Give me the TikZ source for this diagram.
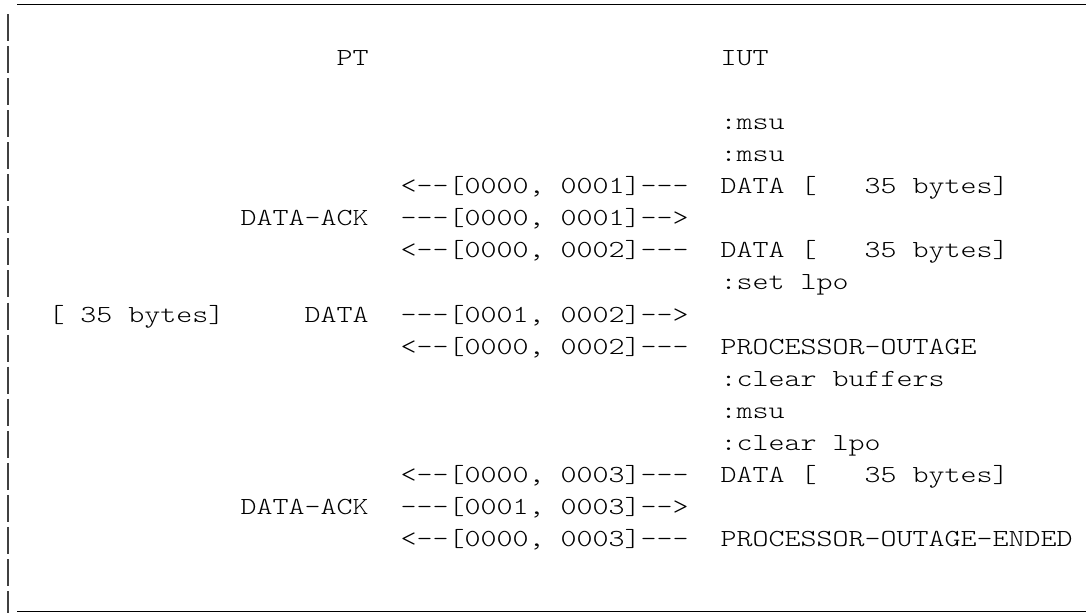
\documentclass[tikz,border=0pt]{standalone}
\usepackage{fontspec}
\newfontfamily\cmono{Latin Modern Mono Light}
\newcommand{\mono}[1]{\scalebox{1.2439}[1]{#1}}
\tikzset{
  txt/.style={anchor=base west, inner sep=0pt, outer sep=0pt, text=black,
    font=\fontsize{24.5}{24.5}\selectfont\cmono},
  rule/.style={line width=1.5pt, black},
  bar/.style={line width=1.7pt, black!75}
}
\begin{document}
\begin{tikzpicture}[x=1pt,y=1pt]
\useasboundingbox (0,0) rectangle (1086,-613);
% frame
\draw[rule] (17,-4.7) -- (1086,-4.7);
\draw[rule] (17,-611.5) -- (1086,-611.5);
\foreach \k in {0,...,18} {
  \draw[bar] (8.3,{-14-32.06*\k}) -- (8.3,{max(-613,-41-32.06*\k)});
}
% header
\node[txt] (pt)  at (336.5,-65.56) {\mono{PT}};
\node[txt] (iut) at (720.5,-65.56) {\mono{IUT}};
% rows
\node[txt] (m1) at (720.5,-129.68) {\mono{:msu}};
\node[txt] (m2) at (720.5,-161.74) {\mono{:msu}};
\node[txt] (a1) at (400.5,-193.8) {\mono{<--[0000, 0001]---}};
\node[txt] (d1) at (720.5,-193.8) {\mono{DATA [\ \ \ 35 bytes]}};
\node[txt] (k1) at (240.5,-225.86) {\mono{DATA-ACK}};
\node[txt] (a2) at (400.5,-225.86) {\mono{---[0000, 0001]-->}};
\node[txt] (a3) at (400.5,-257.92) {\mono{<--[0000, 0002]---}};
\node[txt] (d2) at (720.5,-257.92) {\mono{DATA [\ \ \ 35 bytes]}};
\node[txt] (s1) at (720.5,-289.98) {\mono{:set lpo}};
\node[txt] (b1) at (48.5,-322.04) {\mono{[ 35 bytes]}};
\node[txt] (d3) at (304.5,-322.04) {\mono{DATA}};
\node[txt] (a4) at (400.5,-322.04) {\mono{---[0001, 0002]-->}};
\node[txt] (a5) at (400.5,-354.1) {\mono{<--[0000, 0002]---}};
\node[txt] (po) at (720.5,-354.1) {\mono{PROCESSOR-OUTAGE}};
\node[txt] (cb) at (720.5,-386.16) {\mono{:clear buffers}};
\node[txt] (m3) at (720.5,-418.22) {\mono{:msu}};
\node[txt] (cl) at (720.5,-450.28) {\mono{:clear lpo}};
\node[txt] (a6) at (400.5,-482.34) {\mono{<--[0000, 0003]---}};
\node[txt] (d4) at (720.5,-482.34) {\mono{DATA [\ \ \ 35 bytes]}};
\node[txt] (k2) at (240.5,-514.4) {\mono{DATA-ACK}};
\node[txt] (a7) at (400.5,-514.4) {\mono{---[0001, 0003]-->}};
\node[txt] (a8) at (400.5,-546.46) {\mono{<--[0000, 0003]---}};
\node[txt] (pe) at (720.5,-546.46) {\mono{PROCESSOR-OUTAGE-ENDED}};
\end{tikzpicture}
\end{document}
